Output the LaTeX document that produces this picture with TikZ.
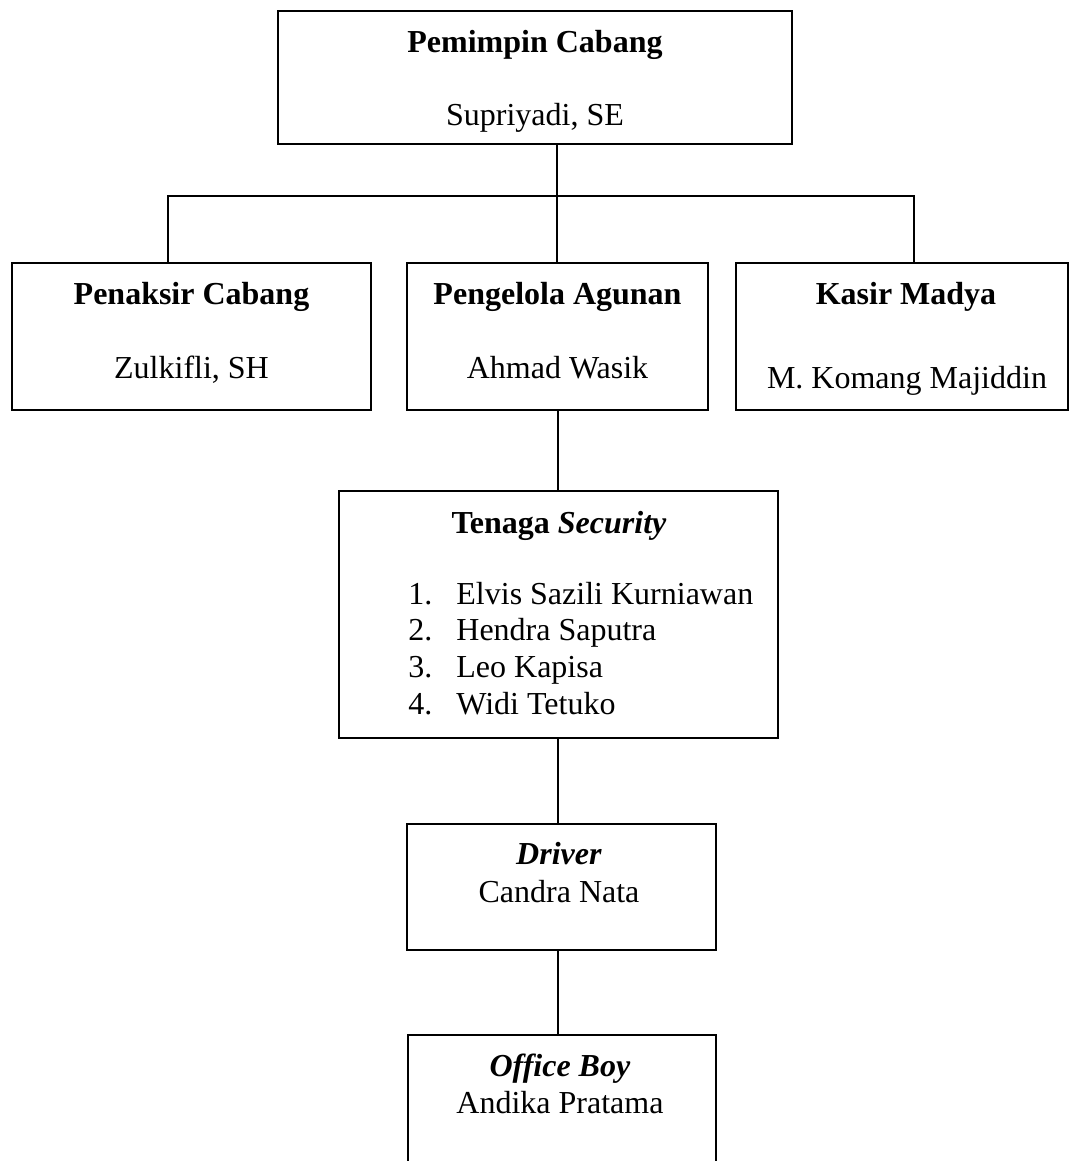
\documentclass[tikz,border=0pt]{standalone}
\usepackage{fontspec}
\setmainfont{Liberation Serif}
\begin{document}
\begin{tikzpicture}[x=0.5pt,y=-0.5pt,
  box/.style={draw,line width=1pt,rectangle,inner sep=0pt,outer sep=0pt},
  txt/.style={anchor=base,inner sep=0pt,font=\fontsize{16pt}{19pt}\selectfont},
  ltxt/.style={anchor=base west,inner sep=0pt,font=\fontsize{16pt}{19pt}\selectfont},
  conn/.style={line width=1pt}]
\clip (0,0) rectangle (1070,1161);
% boxes
\node[box,minimum width=257pt,minimum height=66.5pt] (top) at (535,77.5) {};
\node[box,minimum width=179.5pt,minimum height=73.5pt] (pen) at (191.5,336.5) {};
\node[box,minimum width=150.5pt,minimum height=73.5pt] (agu) at (557.5,336.5) {};
\node[box,minimum width=166pt,minimum height=73.5pt] (kas) at (902,336.5) {};
\node[box,minimum width=219.5pt,minimum height=123.5pt] (sec) at (558.5,614.5) {};
\node[box,minimum width=154.5pt,minimum height=63pt] (drv) at (561.5,887) {};
\node[box,minimum width=154pt,minimum height=67.5pt] (ob) at (562,1102.5) {};
% texts
\node[txt] (t1) at (535,53) {\textbf{Pemimpin Cabang}};
\node[txt] (t2) at (535,126) {Supriyadi, SE};
\node[txt] (t3) at (191.5,304) {\textbf{Penaksir Cabang}};
\node[txt] (t4) at (191.5,378) {Zulkifli, SH};
\node[txt] (t5) at (557.5,304) {\textbf{Pengelola Agunan}};
\node[txt] (t6) at (557.5,378) {Ahmad Wasik};
\node[txt] (t7) at (906,304) {\textbf{Kasir Madya}};
\node[txt] (t8) at (907,388) {M. Komang Majiddin};
\node[txt] (t9) at (559,533) {\textbf{Tenaga \textit{Security}}};
\node[ltxt] (s1) at (408,604) {\makebox[24pt][l]{1.}Elvis Sazili Kurniawan};
\node[ltxt] (s2) at (408,640) {\makebox[24pt][l]{2.}Hendra Saputra};
\node[ltxt] (s3) at (408,677) {\makebox[24pt][l]{3.}Leo Kapisa};
\node[ltxt] (s4) at (408,714) {\makebox[24pt][l]{4.}Widi Tetuko};
\node[txt] (t10) at (559,864) {\textbf{\textit{Driver}}};
\node[txt] (t11) at (559,902) {Candra Nata};
\node[txt] (t12) at (560,1076) {\textbf{\textit{Office Boy}}};
\node[txt] (t13) at (560,1113) {Andika Pratama};
% connectors
\coordinate (bus) at (557,196);
\coordinate (jl) at (168,196);
\coordinate (jr) at (914,196);
\coordinate (spine) at (558,0);
\draw[conn] (top.south -| bus) -- (bus);
\draw[conn] (pen.north -| jl) -- (jl) -- (jr) -- (kas.north -| jr);
\draw[conn] (bus) -- (agu.north -| bus);
\draw[conn] (agu.south -| spine) -- (sec.north -| spine);
\draw[conn] (sec.south -| spine) -- (drv.north -| spine);
\draw[conn] (drv.south -| spine) -- (ob.north -| spine);
\end{tikzpicture}
\end{document}
